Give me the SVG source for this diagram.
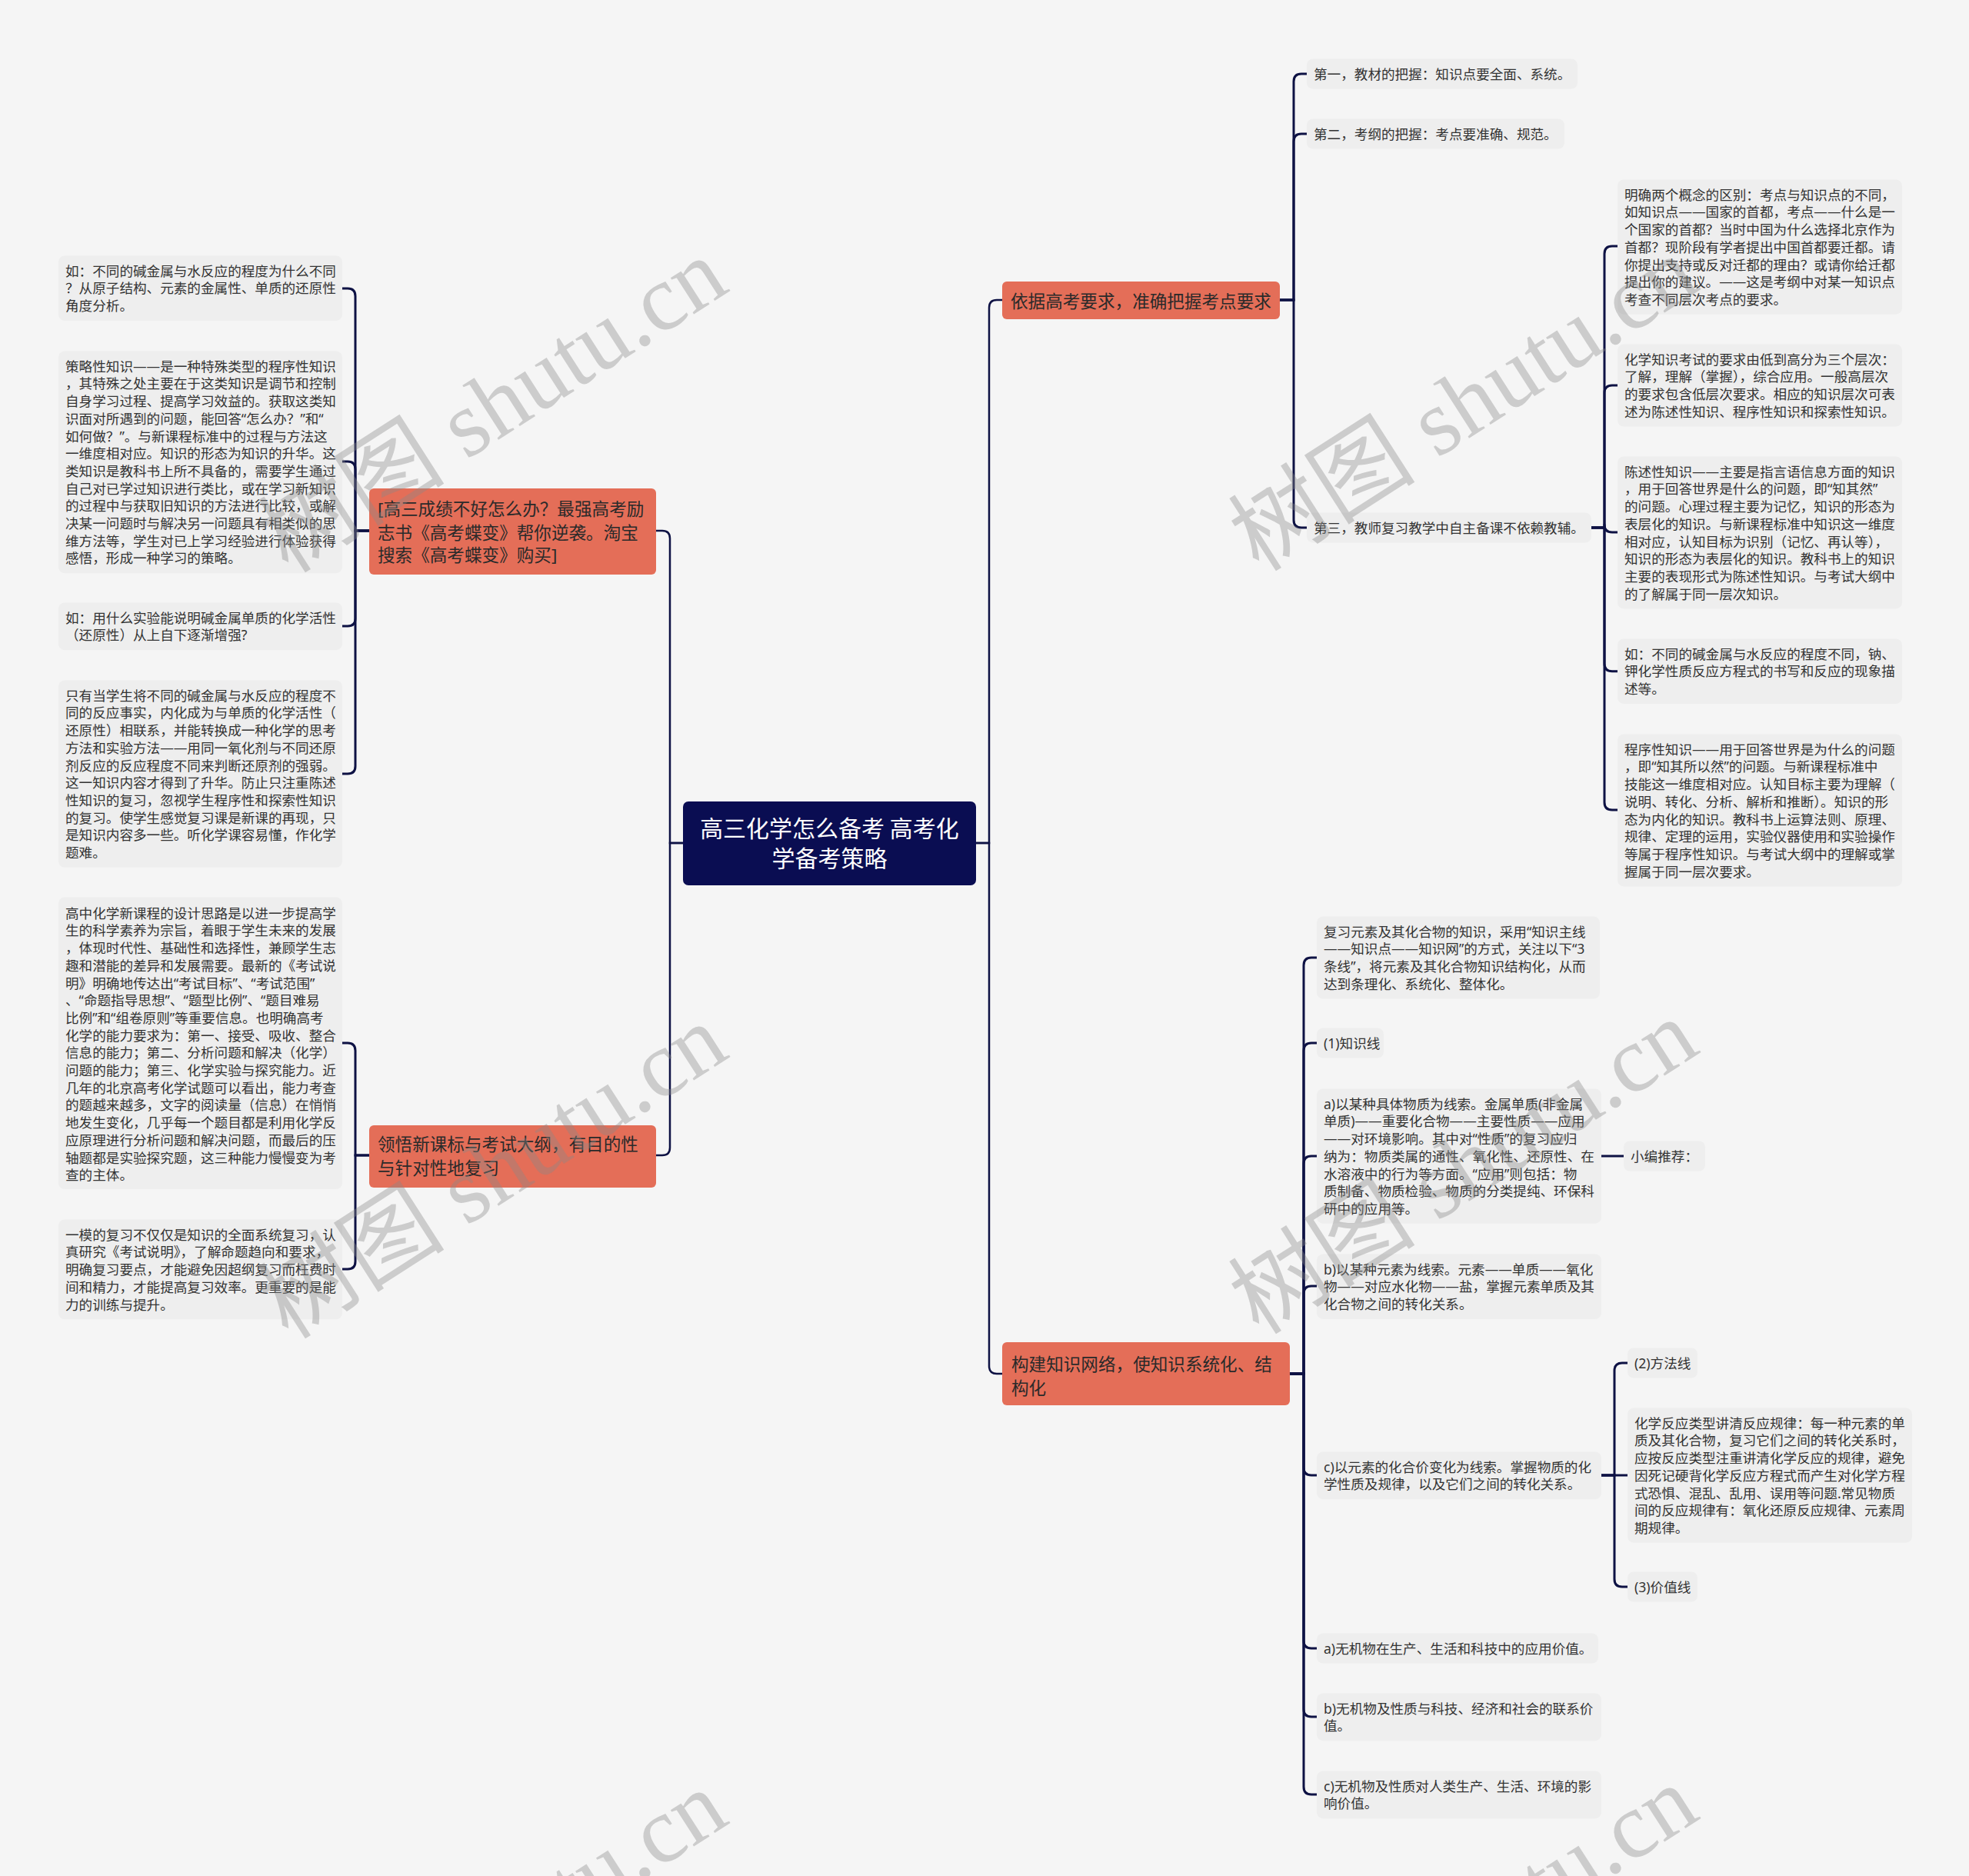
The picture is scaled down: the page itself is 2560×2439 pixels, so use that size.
<svg xmlns="http://www.w3.org/2000/svg" width="2560" height="2439" viewBox="0 0 2560 2439">
<style>
.bg{fill:#f5f5f5}
.leaf rect{fill:#eeeeee}
.leaf text{font-family:"Noto Sans","Noto Sans CJK SC",sans-serif;font-size:17.6px;fill:#333333}
.br rect{fill:#e46e58}
.br text{font-family:"Noto Sans","Noto Sans CJK SC",sans-serif;font-size:22.6px;fill:#2a2a2a}
.root rect{fill:#0a0d52}
.root text{font-family:"Noto Sans CJK SC","Noto Sans",sans-serif;font-size:30px;fill:#ffffff;text-anchor:middle}
.main path{fill:none;stroke:#0e1244;stroke-width:2.5}
.sub path{fill:none;stroke:#0e1244;stroke-width:3;stroke-linecap:round}
.wm{font-family:"Liberation Serif","Noto Sans CJK SC",serif;font-size:122px;fill:#888888;fill-opacity:0.38;text-anchor:middle}
</style>
<rect class="bg" x="0" y="0" width="2560" height="2439"/>

<g id="connectors">
<g class="main">
<path d="M888 1096 H871 V700 Q871 690 861 690 H853"/>
<path d="M888 1096 H871 V1492 Q871 1502 861 1502 H853"/>
<path d="M1269 1096 H1286 V400 Q1286 390 1296 390 H1303"/>
<path d="M1269 1096 H1286 V1776 Q1286 1786 1296 1786 H1303"/>
</g>
<g class="sub">
<path d="M480 690 H462 V385 Q462 375 452 375 H445"/>
<path d="M480 690 H462 V610 Q462 600 452 600 H445"/>
<path d="M480 690 H462 V804 Q462 814 452 814 H445"/>
<path d="M480 690 H462 V996 Q462 1006 452 1006 H445"/>
<path d="M480 1502 H462 V1366 Q462 1356 452 1356 H445"/>
<path d="M480 1502 H462 V1640 Q462 1650 452 1650 H445"/>
<path d="M1664 390 H1682 V106 Q1682 96 1692 96 H1699"/>
<path d="M1664 390 H1682 V184 Q1682 174 1692 174 H1699"/>
<path d="M1664 390 H1682 V676 Q1682 686 1692 686 H1699"/>
<path d="M2069 686 H2086 V330 Q2086 320 2096 320 H2103"/>
<path d="M2069 686 H2086 V511 Q2086 501 2096 501 H2103"/>
<path d="M2086 682 Q2086 692 2096 692 H2103"/>
<path d="M2069 686 H2086 V862.7 Q2086 872.7 2096 872.7 H2103"/>
<path d="M2069 686 H2086 V1043 Q2086 1053 2096 1053 H2103"/>
<path d="M1677 1786 H1695 V1255 Q1695 1245 1705 1245 H1712"/>
<path d="M1677 1786 H1695 V1366 Q1695 1356 1705 1356 H1712"/>
<path d="M1677 1786 H1695 V1513 Q1695 1503 1705 1503 H1712"/>
<path d="M1677 1786 H1695 V1682 Q1695 1672 1705 1672 H1712"/>
<path d="M1677 1786 H1695 V1908 Q1695 1918 1705 1918 H1712"/>
<path d="M1677 1786 H1695 V2133 Q1695 2143 1705 2143 H1712"/>
<path d="M1677 1786 H1695 V2222 Q1695 2232 1705 2232 H1712"/>
<path d="M1677 1786 H1695 V2323 Q1695 2333 1705 2333 H1712"/>
<path d="M2082 1503 H2111"/>
<path d="M2082 1918 H2099 V1782 Q2099 1772 2109 1772 H2116"/>
<path d="M2082 1918 H2116"/>
<path d="M2082 1918 H2099 V2053 Q2099 2063 2109 2063 H2116"/>
</g>
</g>

<g id="root" class="root">
<rect x="888" y="1042" width="381" height="109" rx="7"/>
<text x="1078.5" y="1088.4">高三化学怎么备考 高考化</text>
<text x="1078.5" y="1127.4">学备考策略</text>
</g>

<g id="b1" class="br">
<rect x="1303" y="366" width="361" height="49" rx="6"/>
<text x="1314" y="399.6">依据高考要求，准确把握考点要求</text>
</g>
<g id="b2" class="br">
<rect x="480" y="635" width="373" height="112" rx="6"/>
<text x="491" y="669.6">[高三成绩不好怎么办？最强高考励</text>
<text x="491" y="700.6">志书《高考蝶变》帮你逆袭。淘宝</text>
<text x="491" y="729.6">搜索《高考蝶变》购买]</text>
</g>
<g id="b3" class="br">
<rect x="480" y="1463" width="373" height="81" rx="6"/>
<text x="491" y="1495.6">领悟新课标与考试大纲，有目的性</text>
<text x="491" y="1526.6">与针对性地复习</text>
</g>
<g id="b4" class="br">
<rect x="1303" y="1745" width="374" height="82" rx="6"/>
<text x="1315" y="1781.6">构建知识网络，使知识系统化、结</text>
<text x="1315" y="1812.6">构化</text>
</g>

<g id="l1" class="leaf">
<rect x="76" y="332.5" width="369" height="84.4" rx="8"/>
<text x="85" y="358.7">如：不同的碱金属与水反应的程度为什么不同<tspan x="85" dy="22.7">？从原子结构、元素的金属性、单质的还原性</tspan><tspan x="85" dy="22.7">角度分析。</tspan></text>
</g>
<g id="l2" class="leaf">
<rect x="76" y="456.5" width="369" height="288.7" rx="8"/>
<text x="85" y="482.7">策略性知识——是一种特殊类型的程序性知识<tspan x="85" dy="22.7">，其特殊之处主要在于这类知识是调节和控制</tspan><tspan x="85" dy="22.7">自身学习过程、提高学习效益的。获取这类知</tspan><tspan x="85" dy="22.7">识面对所遇到的问题，能回答“怎么办？”和“</tspan><tspan x="85" dy="22.7">如何做？”。与新课程标准中的过程与方法这</tspan><tspan x="85" dy="22.7">一维度相对应。知识的形态为知识的升华。这</tspan><tspan x="85" dy="22.7">类知识是教科书上所不具备的，需要学生通过</tspan><tspan x="85" dy="22.7">自己对已学过知识进行类比，或在学习新知识</tspan><tspan x="85" dy="22.7">的过程中与获取旧知识的方法进行比较，或解</tspan><tspan x="85" dy="22.7">决某一问题时与解决另一问题具有相类似的思</tspan><tspan x="85" dy="22.7">维方法等，学生对已上学习经验进行体验获得</tspan><tspan x="85" dy="22.7">感悟，形成一种学习的策略。</tspan></text>
</g>
<g id="l3" class="leaf">
<rect x="76" y="783.5" width="369" height="61.7" rx="8"/>
<text x="85" y="809.7">如：用什么实验能说明碱金属单质的化学活性<tspan x="85" dy="22.7">（还原性）从上自下逐渐增强?</tspan></text>
</g>
<g id="l4" class="leaf">
<rect x="76" y="884.5" width="369" height="243.3" rx="8"/>
<text x="85" y="910.7">只有当学生将不同的碱金属与水反应的程度不<tspan x="85" dy="22.7">同的反应事实，内化成为与单质的化学活性（</tspan><tspan x="85" dy="22.7">还原性）相联系，并能转换成一种化学的思考</tspan><tspan x="85" dy="22.7">方法和实验方法——用同一氧化剂与不同还原</tspan><tspan x="85" dy="22.7">剂反应的反应程度不同来判断还原剂的强弱。</tspan><tspan x="85" dy="22.7">这一知识内容才得到了升华。防止只注重陈述</tspan><tspan x="85" dy="22.7">性知识的复习，忽视学生程序性和探索性知识</tspan><tspan x="85" dy="22.7">的复习。使学生感觉复习课是新课的再现，只</tspan><tspan x="85" dy="22.7">是知识内容多一些。听化学课容易懂，作化学</tspan><tspan x="85" dy="22.7">题难。</tspan></text>
</g>
<g id="l5" class="leaf">
<rect x="76" y="1166.5" width="369" height="379.5" rx="8"/>
<text x="85" y="1193.7">高中化学新课程的设计思路是以进一步提高学<tspan x="85" dy="22.7">生的科学素养为宗旨，着眼于学生未来的发展</tspan><tspan x="85" dy="22.7">，体现时代性、基础性和选择性，兼顾学生志</tspan><tspan x="85" dy="22.7">趣和潜能的差异和发展需要。最新的《考试说</tspan><tspan x="85" dy="22.7">明》明确地传达出“考试目标”、“考试范围”</tspan><tspan x="85" dy="22.7">、“命题指导思想”、“题型比例”、“题目难易</tspan><tspan x="85" dy="22.7">比例”和“组卷原则”等重要信息。也明确高考</tspan><tspan x="85" dy="22.7">化学的能力要求为：第一、接受、吸收、整合</tspan><tspan x="85" dy="22.7">信息的能力；第二、分析问题和解决（化学）</tspan><tspan x="85" dy="22.7">问题的能力；第三、化学实验与探究能力。近</tspan><tspan x="85" dy="22.7">几年的北京高考化学试题可以看出，能力考查</tspan><tspan x="85" dy="22.7">的题越来越多，文字的阅读量（信息）在悄悄</tspan><tspan x="85" dy="22.7">地发生变化，几乎每一个题目都是利用化学反</tspan><tspan x="85" dy="22.7">应原理进行分析问题和解决问题，而最后的压</tspan><tspan x="85" dy="22.7">轴题都是实验探究题，这三种能力慢慢变为考</tspan><tspan x="85" dy="22.7">查的主体。</tspan></text>
</g>
<g id="l6" class="leaf">
<rect x="76" y="1585.5" width="369" height="129.8" rx="8"/>
<text x="85" y="1611.7">一模的复习不仅仅是知识的全面系统复习，认<tspan x="85" dy="22.7">真研究《考试说明》，了解命题趋向和要求，</tspan><tspan x="85" dy="22.7">明确复习要点，才能避免因超纲复习而枉费时</tspan><tspan x="85" dy="22.7">间和精力，才能提高复习效率。更重要的是能</tspan><tspan x="85" dy="22.7">力的训练与提升。</tspan></text>
</g>

<g id="r1" class="leaf">
<rect x="1699" y="76.5" width="352" height="39" rx="8"/>
<text x="1708" y="102.7">第一，教材的把握：知识点要全面、系统。</text>
</g>
<g id="r2" class="leaf">
<rect x="1699" y="154.5" width="335" height="39" rx="8"/>
<text x="1708" y="180.7">第二，考纲的把握：考点要准确、规范。</text>
</g>
<g id="r3" class="leaf">
<rect x="1699" y="666.5" width="370" height="39" rx="8"/>
<text x="1708" y="692.7">第三，教师复习教学中自主备课不依赖教辅。</text>
</g>
<g id="r3a" class="leaf">
<rect x="2103" y="233.5" width="370" height="175.2" rx="8"/>
<text x="2112" y="259.7">明确两个概念的区别：考点与知识点的不同，<tspan x="2112" dy="22.7">如知识点——国家的首都，考点——什么是一</tspan><tspan x="2112" dy="22.7">个国家的首都？当时中国为什么选择北京作为</tspan><tspan x="2112" dy="22.7">首都？现阶段有学者提出中国首都要迁都。请</tspan><tspan x="2112" dy="22.7">你提出支持或反对迁都的理由？或请你给迁都</tspan><tspan x="2112" dy="22.7">提出你的建议。——这是考纲中对某一知识点</tspan><tspan x="2112" dy="22.7">考查不同层次考点的要求。</tspan></text>
</g>
<g id="r3b" class="leaf">
<rect x="2103" y="447.5" width="370" height="107.1" rx="8"/>
<text x="2112" y="473.7">化学知识考试的要求由低到高分为三个层次：<tspan x="2112" dy="22.7">了解，理解（掌握），综合应用。一般高层次</tspan><tspan x="2112" dy="22.7">的要求包含低层次要求。相应的知识层次可表</tspan><tspan x="2112" dy="22.7">述为陈述性知识、程序性知识和探索性知识。</tspan></text>
</g>
<g id="r3c" class="leaf">
<rect x="2103" y="593.5" width="370" height="197.9" rx="8"/>
<text x="2112" y="619.7">陈述性知识——主要是指言语信息方面的知识<tspan x="2112" dy="22.7">，用于回答世界是什么的问题，即“知其然”</tspan><tspan x="2112" dy="22.7">的问题。心理过程主要为记忆，知识的形态为</tspan><tspan x="2112" dy="22.7">表层化的知识。与新课程标准中知识这一维度</tspan><tspan x="2112" dy="22.7">相对应，认知目标为识别（记忆、再认等），</tspan><tspan x="2112" dy="22.7">知识的形态为表层化的知识。教科书上的知识</tspan><tspan x="2112" dy="22.7">主要的表现形式为陈述性知识。与考试大纲中</tspan><tspan x="2112" dy="22.7">的了解属于同一层次知识。</tspan></text>
</g>
<g id="r3d" class="leaf">
<rect x="2103" y="830.5" width="370" height="84.4" rx="8"/>
<text x="2112" y="856.7">如：不同的碱金属与水反应的程度不同，钠、<tspan x="2112" dy="22.7">钾化学性质反应方程式的书写和反应的现象描</tspan><tspan x="2112" dy="22.7">述等。</tspan></text>
</g>
<g id="r3e" class="leaf">
<rect x="2103" y="954.5" width="370" height="197.9" rx="8"/>
<text x="2112" y="980.7">程序性知识——用于回答世界是为什么的问题<tspan x="2112" dy="22.7">，即“知其所以然”的问题。与新课程标准中</tspan><tspan x="2112" dy="22.7">技能这一维度相对应。认知目标主要为理解（</tspan><tspan x="2112" dy="22.7">说明、转化、分析、解析和推断）。知识的形</tspan><tspan x="2112" dy="22.7">态为内化的知识。教科书上运算法则、原理、</tspan><tspan x="2112" dy="22.7">规律、定理的运用，实验仪器使用和实验操作</tspan><tspan x="2112" dy="22.7">等属于程序性知识。与考试大纲中的理解或掌</tspan><tspan x="2112" dy="22.7">握属于同一层次要求。</tspan></text>
</g>

<g id="r4a" class="leaf">
<rect x="1712" y="1191.5" width="368" height="107.1" rx="8"/>
<text x="1721" y="1217.7">复习元素及其化合物的知识，采用“知识主线<tspan x="1721" dy="22.7">——知识点——知识网”的方式，关注以下“3</tspan><tspan x="1721" dy="22.7">条线”，将元素及其化合物知识结构化，从而</tspan><tspan x="1721" dy="22.7">达到条理化、系统化、整体化。</tspan></text>
</g>
<g id="r4b" class="leaf">
<rect x="1712" y="1336.5" width="87" height="39" rx="8"/>
<text x="1721" y="1362.7">(1)知识线</text>
</g>
<g id="r4c" class="leaf">
<rect x="1712" y="1415.5" width="370" height="175.2" rx="8"/>
<text x="1721" y="1441.7">a)以某种具体物质为线索。金属单质(非金属<tspan x="1721" dy="22.7">单质)——重要化合物——主要性质——应用</tspan><tspan x="1721" dy="22.7">——对环境影响。其中对“性质”的复习应归</tspan><tspan x="1721" dy="22.7">纳为：物质类属的通性、氧化性、还原性、在</tspan><tspan x="1721" dy="22.7">水溶液中的行为等方面。“应用”则包括：物</tspan><tspan x="1721" dy="22.7">质制备、物质检验、物质的分类提纯、环保科</tspan><tspan x="1721" dy="22.7">研中的应用等。</tspan></text>
</g>
<g id="r4c1" class="leaf">
<rect x="2111" y="1483.5" width="106" height="39" rx="8"/>
<text x="2120" y="1509.7">小编推荐：</text>
</g>
<g id="r4d" class="leaf">
<rect x="1712" y="1630.5" width="370" height="84.4" rx="8"/>
<text x="1721" y="1656.7">b)以某种元素为线索。元素——单质——氧化<tspan x="1721" dy="22.7">物——对应水化物——盐，掌握元素单质及其</tspan><tspan x="1721" dy="22.7">化合物之间的转化关系。</tspan></text>
</g>
<g id="r4e" class="leaf">
<rect x="1712" y="1887.5" width="370" height="61.7" rx="8"/>
<text x="1721" y="1913.7">c)以元素的化合价变化为线索。掌握物质的化<tspan x="1721" dy="22.7">学性质及规律，以及它们之间的转化关系。</tspan></text>
</g>
<g id="r4e1" class="leaf">
<rect x="2116" y="1752.5" width="91" height="39" rx="8"/>
<text x="2125" y="1778.7">(2)方法线</text>
</g>
<g id="r4e2" class="leaf">
<rect x="2116" y="1830.5" width="370" height="175.2" rx="8"/>
<text x="2125" y="1856.7">化学反应类型讲清反应规律：每一种元素的单<tspan x="2125" dy="22.7">质及其化合物，复习它们之间的转化关系时，</tspan><tspan x="2125" dy="22.7">应按反应类型注重讲清化学反应的规律，避免</tspan><tspan x="2125" dy="22.7">因死记硬背化学反应方程式而产生对化学方程</tspan><tspan x="2125" dy="22.7">式恐惧、混乱、乱用、误用等问题.常见物质</tspan><tspan x="2125" dy="22.7">间的反应规律有：氧化还原反应规律、元素周</tspan><tspan x="2125" dy="22.7">期规律。</tspan></text>
</g>
<g id="r4e3" class="leaf">
<rect x="2116" y="2043.5" width="91" height="39" rx="8"/>
<text x="2125" y="2069.7">(3)价值线</text>
</g>
<g id="r4f" class="leaf">
<rect x="1712" y="2123.5" width="366" height="39" rx="8"/>
<text x="1721" y="2149.7">a)无机物在生产、生活和科技中的应用价值。</text>
</g>
<g id="r4g" class="leaf">
<rect x="1712" y="2201.5" width="370" height="61.7" rx="8"/>
<text x="1721" y="2227.7">b)无机物及性质与科技、经济和社会的联系价<tspan x="1721" dy="22.7">值。</tspan></text>
</g>
<g id="r4h" class="leaf">
<rect x="1712" y="2302.5" width="370" height="61.7" rx="8"/>
<text x="1721" y="2328.7">c)无机物及性质对人类生产、生活、环境的影<tspan x="1721" dy="22.7">响价值。</tspan></text>
</g>

<g id="watermarks">
<text class="wm" transform="translate(663 562) rotate(-32.7)">树图 shutu.cn</text>
<text class="wm" transform="translate(663 1558) rotate(-32.7)">树图 shutu.cn</text>
<text class="wm" transform="translate(1925 560) rotate(-32.7)">树图 shutu.cn</text>
<text class="wm" transform="translate(1925 1552) rotate(-32.7)">树图 shutu.cn</text>
<text class="wm" transform="translate(663 2554) rotate(-32.7)">树图 shutu.cn</text>
<text class="wm" transform="translate(1925 2548) rotate(-32.7)">树图 shutu.cn</text>
</g>
</svg>
